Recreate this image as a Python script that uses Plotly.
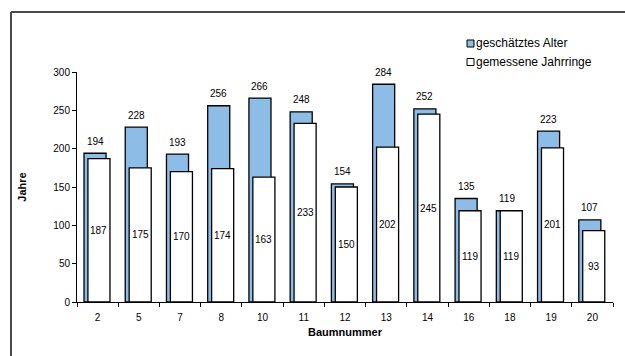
import plotly.graph_objects as go

# Tree numbers and ages
baumnummer = ["2", "5", "7", "8", "10", "11", "12", "13", "14", "16", "18", "19", "20"]
geschaetztes_alter = [194, 228, 193, 256, 266, 248, 154, 284, 252, 135, 119, 223, 107]
gemessene_jahrringe = [187, 175, 170, 174, 163, 233, 150, 202, 245, 119, 119, 201, 93]
y_ticks = [0, 50, 100, 150, 200, 250, 300]

W, H = 625, 356
L, R, T, B = 77, 12, 72, 54
PW, PH = W - L - R, H - T - B

BLUE = "#8DBDE6"
FONT = "Liberation Sans, Arial, sans-serif"

BAR_W = 0.535
OFF_BLUE = -0.33
OFF_WHITE = -0.235

fig = go.Figure()
fig.add_trace(go.Bar(
    x=baumnummer, y=geschaetztes_alter, name="geschätztes Alter",
    width=BAR_W, offset=OFF_BLUE,
    marker=dict(color=BLUE, line=dict(color="black", width=1.3)),
))
fig.add_trace(go.Bar(
    x=baumnummer, y=gemessene_jahrringe, name="gemessene Jahrringe",
    width=BAR_W, offset=OFF_WHITE,
    marker=dict(color="white", line=dict(color="black", width=1.3)),
))

annotations = []
for i, (a, g) in enumerate(zip(geschaetztes_alter, gemessene_jahrringe)):
    annotations.append(dict(
        x=i + OFF_BLUE + BAR_W / 2, y=a, xref="x", yref="y",
        text=str(a), showarrow=False, yanchor="middle", yshift=12,
        font=dict(size=10, color="black", family=FONT),
    ))
    annotations.append(dict(
        x=i + OFF_WHITE + BAR_W / 2, y=g / 2, xref="x", yref="y",
        text=str(g), showarrow=False, yanchor="middle",
        font=dict(size=10, color="black", family=FONT),
    ))


def px_x(p):
    return (p - L) / PW


def px_y(p):
    return (H - B - p) / PH


# Hand-built legend: small framed swatches with text beside them
legend_items = [("geschätztes Alter", BLUE, 43.5), ("gemessene Jahrringe", "white", 62)]
shapes = []
for label, col, cy in legend_items:
    shapes.append(dict(
        type="rect", xref="paper", yref="paper",
        x0=px_x(467), x1=px_x(474), y0=px_y(cy + 3.5), y1=px_y(cy - 3.5),
        fillcolor=col, line=dict(color="black", width=1),
    ))
    annotations.append(dict(
        x=px_x(474), y=px_y(cy), xref="paper", yref="paper",
        text=label, showarrow=False, xanchor="left", yanchor="middle",
        font=dict(size=12, color="black", family=FONT),
    ))

# Outer frame: left edge and top edge as separate lines
shapes.append(dict(
    type="line", xref="paper", yref="paper",
    x0=px_x(11), x1=px_x(11), y0=px_y(H), y1=px_y(12),
    line=dict(color="#4a4a4a", width=2),
))
shapes.append(dict(
    type="line", xref="paper", yref="paper",
    x0=px_x(11), x1=px_x(W), y0=px_y(12), y1=px_y(12),
    line=dict(color="#4a4a4a", width=2),
))

fig.update_layout(
    width=W, height=H,
    margin=dict(l=L, r=R, t=T, b=B),
    paper_bgcolor="white", plot_bgcolor="white",
    barmode="overlay", showlegend=False,
    font=dict(family=FONT, size=10, color="black"),
    annotations=annotations, shapes=shapes,
    xaxis=dict(
        type="category", range=[-0.5, len(baumnummer) - 0.5],
        tickson="boundaries", ticks="outside", ticklen=4, tickcolor="black",
        showline=True, linecolor="black", linewidth=1, showgrid=False,
        tickfont=dict(size=10), ticklabelstandoff=6,
        title=dict(text="<b>Baumnummer</b>", font=dict(size=11), standoff=6),
    ),
    yaxis=dict(
        range=[0, 300], tickvals=y_ticks, ticks="outside", ticklen=4,
        tickcolor="black", showline=True, linecolor="black", linewidth=1,
        showgrid=False, zeroline=False, tickfont=dict(size=10),
        title=dict(text="<b>Jahre</b>", font=dict(size=11), standoff=24),
    ),
)

fig.write_html("out.html")
